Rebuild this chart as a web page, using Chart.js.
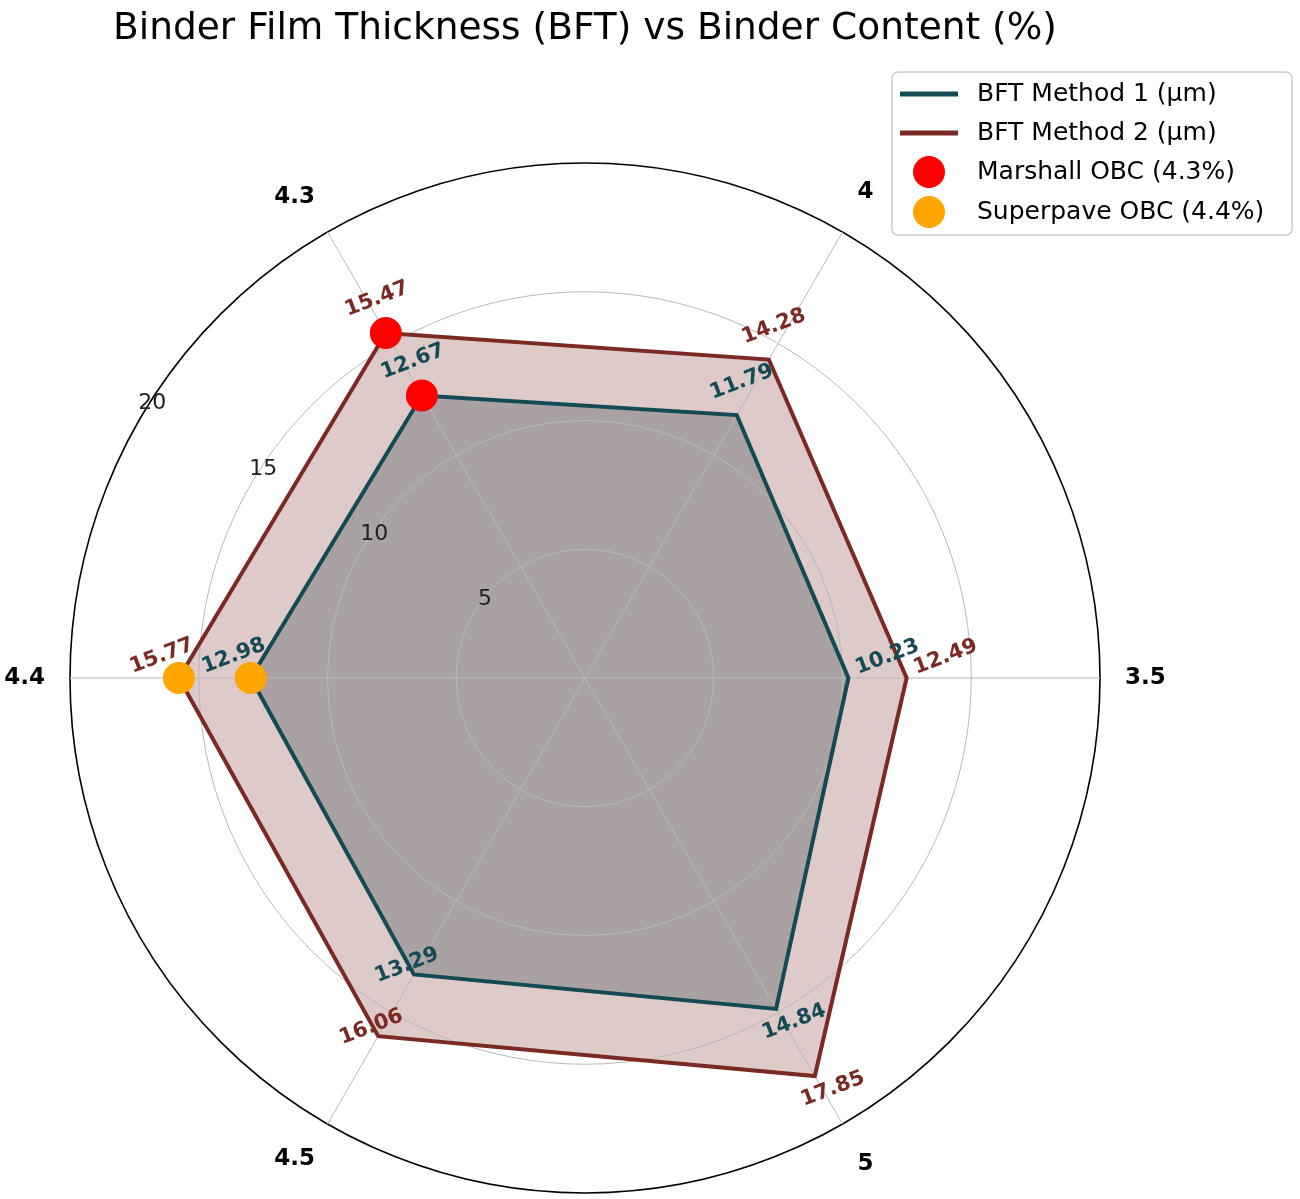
<!DOCTYPE html>
<html><head><meta charset="utf-8">
<script src="https://cdn.jsdelivr.net/npm/chart.js@4.4.0/dist/chart.umd.min.js"></script>
<style>html,body{margin:0;padding:0;background:#fff}#c{display:block}</style>
</head><body>
<canvas id="c" width="1300" height="1199"></canvas>
<script>
// ---- data ----
const categories = ['3.5', '4', '4.3', '4.4', '4.5', '5'];
const bftMethod1 = [10.23, 11.79, 12.67, 12.98, 13.29, 14.84];
const bftMethod2 = [12.49, 14.28, 15.47, 15.77, 16.06, 17.85];
const radialTicks = [5, 10, 15, 20];
const seriesNames = ['BFT Method 1 (µm)', 'BFT Method 2 (µm)'];
const marshallCategory = '4.3';
const superpaveCategory = '4.4';
const markerNames = ['Marshall OBC (4.3%)', 'Superpave OBC (4.4%)'];
const titleText = 'Binder Film Thickness (BFT) vs Binder Content (%)';

// ---- styles ----
const C1 = '#134a56', C2 = '#7a2a22', RED = '#ff0000', ORANGE = '#ffa500';
const FONT = 'DejaVu Sans';
// label offsets (px, from point to label centre) per category direction
const labelOffsets = {'3.5': [39, -21], '4': [5, -33], '4.3': [-9, -34], '4.4': [-17, -22], '4.5': [-7, -9], '5': [18, 13]};

// matplotlib goes counter-clockwise from east; Chart.js goes clockwise -> reorder
const order = [0].concat(categories.slice(1).map((_, i) => categories.length - 1 - i));
const labels = order.map(i => categories[i]);
const d1 = order.map(i => bftMethod1[i]);
const d2 = order.map(i => bftMethod2[i]);
const markerData = (cat, series) => order.map(i => categories[i] === cat ? series[i] : null);

function drawValueLabels(chart) {
  const ctx = chart.ctx;
  [[0, bftMethod1, C1], [1, bftMethod2, C2]].forEach(([di, series, col]) => {
    const meta = chart.getDatasetMeta(di);
    meta.data.forEach((pt, j) => {
      const oi = order[j];
      const off = labelOffsets[categories[oi]];
      ctx.save();
      ctx.translate(pt.x + off[0], pt.y + off[1]);
      ctx.rotate(-21 * Math.PI / 180);
      ctx.font = 'bold 21px "' + FONT + '"';
      ctx.fillStyle = col;
      ctx.textAlign = 'center';
      ctx.textBaseline = 'middle';
      ctx.fillText(series[oi].toFixed(2), 0, 0);
      ctx.restore();
    });
  });
}

function drawTickLabels(chart) {
  const s = chart.scales.r, ctx = chart.ctx;
  const a = 149.5 * Math.PI / 180;
  ctx.save();
  ctx.font = '22px "' + FONT + '"';
  ctx.fillStyle = '#222';
  ctx.textAlign = 'center';
  ctx.textBaseline = 'middle';
  radialTicks.forEach(v => {
    const r = s.getDistanceFromCenterForValue(v);
    ctx.fillText(String(v), s.xCenter + r * Math.cos(a) + 11, s.yCenter - r * Math.sin(a) - 13);
  });
  ctx.restore();
}

function drawLegend(chart) {
  const ctx = chart.ctx;
  const x0 = 892, y0 = 72, w = 400, h = 163;
  ctx.save();
  ctx.beginPath();
  ctx.roundRect(x0, y0, w, h, 6);
  ctx.fillStyle = 'rgba(255,255,255,0.9)';
  ctx.fill();
  ctx.strokeStyle = '#cccccc';
  ctx.lineWidth = 1.5;
  ctx.stroke();
  const rows = [94, 133, 172, 212];
  const items = [
    {t: seriesNames[0], kind: 'line', c: C1},
    {t: seriesNames[1], kind: 'line', c: C2},
    {t: markerNames[0], kind: 'dot', c: RED},
    {t: markerNames[1], kind: 'dot', c: ORANGE}
  ];
  items.forEach((it, k) => {
    const y = rows[k];
    if (it.kind === 'line') {
      ctx.beginPath(); ctx.moveTo(900, y); ctx.lineTo(958, y);
      ctx.strokeStyle = it.c; ctx.lineWidth = 5; ctx.stroke();
    } else {
      ctx.beginPath(); ctx.arc(929, y, 16, 0, Math.PI * 2);
      ctx.fillStyle = it.c; ctx.fill();
    }
    ctx.font = '25px "' + FONT + '"';
    ctx.fillStyle = '#000';
    ctx.textAlign = 'left';
    ctx.textBaseline = 'middle';
    ctx.fillText(it.t, 977, y);
  });
  ctx.restore();
}

const overlay = {
  id: 'overlay',
  afterDatasetDraw(chart, args) { if (args.index === 1) drawValueLabels(chart); },
  afterDatasetsDraw(chart) { drawTickLabels(chart); },
  afterDraw(chart) { drawLegend(chart); }
};

const markerDs = (name, cat, series, col, ord) => ({
  label: name, data: markerData(cat, series), showLine: false, fill: false,
  pointRadius: 16, pointBackgroundColor: col, pointBorderWidth: 0, pointBorderColor: col,
  borderWidth: 0, order: ord
});

new Chart(document.getElementById('c'), {
  type: 'radar',
  data: {
    labels: labels,
    datasets: [
      {label: seriesNames[0], data: d1, borderColor: C1, borderWidth: 4, backgroundColor: 'rgba(19,74,86,0.3)', fill: true, pointRadius: 0, order: 3},
      {label: seriesNames[1], data: d2, borderColor: C2, borderWidth: 4, backgroundColor: 'rgba(122,42,34,0.25)', fill: true, pointRadius: 0, order: 2},
      markerDs(markerNames[0], marshallCategory, bftMethod1, RED, 1),
      markerDs(markerNames[0], marshallCategory, bftMethod2, RED, 1),
      markerDs(markerNames[1], superpaveCategory, bftMethod1, ORANGE, 0),
      markerDs(markerNames[1], superpaveCategory, bftMethod2, ORANGE, 0)
    ]
  },
  options: {
    responsive: false,
    animation: false,
    events: [],
    devicePixelRatio: 1,
    layout: {padding: {left: 0, right: 130, top: 5, bottom: 5}},
    elements: {line: {tension: 0, borderJoinStyle: 'miter'}},
    plugins: {
      legend: {display: false},
      tooltip: {enabled: false},
      filler: {drawTime: 'beforeDraw'},
      title: {
        display: true, text: titleText, color: '#000',
        font: {family: FONT, size: 37.5, weight: 'normal', lineHeight: 1.2},
        padding: {top: 2, bottom: 111}
      }
    },
    scales: {
      r: {
        min: 0, max: 20, startAngle: 90,
        ticks: {display: false, stepSize: 5},
        grid: {
          circular: true,
          color: c => (c.tick && c.tick.value === 20) ? '#000' : '#b8b8b8',
          lineWidth: c => (c.tick && c.tick.value === 20) ? 1.6 : 1
        },
        angleLines: {color: '#b8b8b8', lineWidth: 1},
        pointLabels: {
          color: '#000',
          font: {family: FONT, size: 23, weight: 'bold'},
          padding: c => (c.label.length === 1 ? 30 : 25)
        }
      }
    }
  },
  plugins: [overlay]
});
</script>
</body></html>
